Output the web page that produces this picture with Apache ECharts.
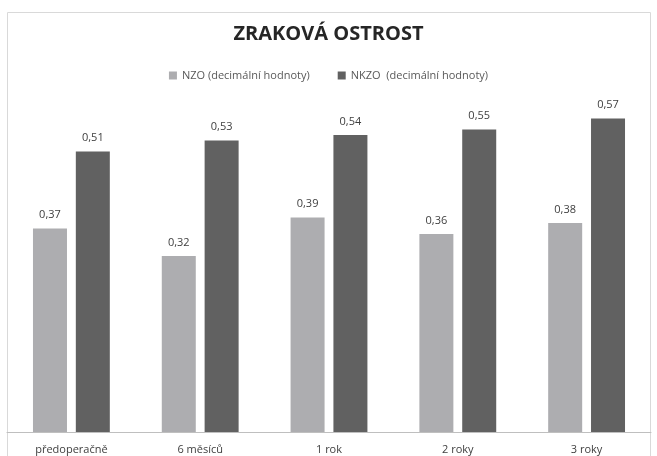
<!DOCTYPE html>
<html><head><meta charset="utf-8">
<script src="https://cdn.jsdelivr.net/npm/echarts@6/dist/echarts.min.js"></script>
<style>html,body{margin:0;padding:0;background:#fff}#c{width:657px;height:456px}</style>
</head><body><div id="c"></div>
<script>
const categories = ['předoperačně', '6 měsíců', '1 rok', '2 roky', '3 roky'];
const nzo = [0.37, 0.32, 0.39, 0.36, 0.38];
const nkzo = [0.51, 0.53, 0.54, 0.55, 0.57];
const seriesNames = ['NZO (decimální hodnoty)', 'NKZO  (decimální hodnoty)'];

const font = '"Open Sans", "DejaVu Sans", sans-serif';
const chart = echarts.init(document.getElementById('c'), null, {renderer: 'canvas'});
const fmt = p => p.value.toFixed(2).replace('.', ',');
chart.setOption({
  animation: false,
  graphic: [{
    type: 'rect', shape: {x: 7.5, y: 12.5, width: 643, height: 460},
    style: {fill: 'none', stroke: '#d9d9d9', lineWidth: 1}, z: -1
  }],
  title: {
    text: 'ZRAKOVÁ OSTROST', left: 'center', top: 19,
    textStyle: {fontFamily: font, fontSize: 20, fontWeight: 'bold', color: '#262626'}
  },
  legend: {
    top: 65, left: 'center', itemWidth: 8, itemHeight: 8, itemGap: 28,
    icon: 'rect',
    textStyle: {fontFamily: font, fontSize: 11, color: '#595959'},
    data: seriesNames
  },
  grid: {left: 7, right: 6, top: 102, bottom: 24},
  xAxis: {
    type: 'category', data: categories,
    axisLine: {lineStyle: {color: '#bfbfbf', width: 1}},
    axisTick: {show: false},
    axisLabel: {fontFamily: font, fontSize: 11, color: '#404040', margin: 12}
  },
  yAxis: {type: 'value', min: 0, max: 0.6, show: false, splitLine: {show: false}},
  series: [
    {name: seriesNames[0], type: 'bar', data: nzo, barWidth: 34, barGap: '26%',
     itemStyle: {color: '#adadb0'},
     label: {show: true, position: 'top', distance: 8, formatter: fmt,
             fontFamily: font, fontSize: 11, color: '#404040'}},
    {name: seriesNames[1], type: 'bar', data: nkzo, barWidth: 34,
     itemStyle: {color: '#616161'},
     label: {show: true, position: 'top', distance: 8, formatter: fmt,
             fontFamily: font, fontSize: 11, color: '#404040'}}
  ]
});
</script></body></html>
